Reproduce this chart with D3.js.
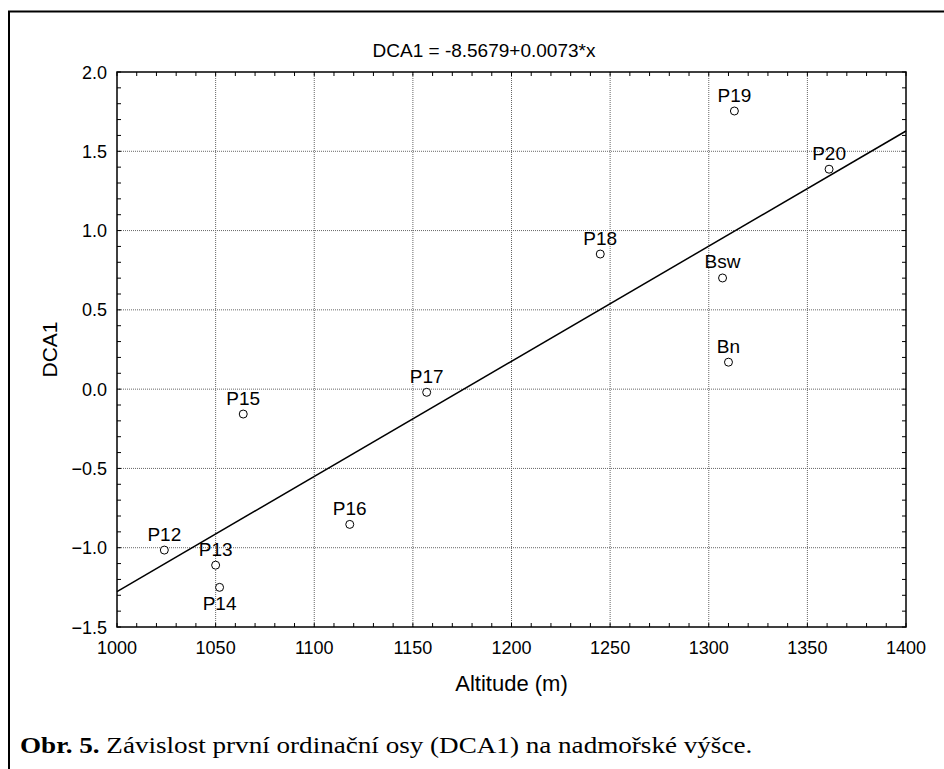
<!DOCTYPE html>
<html lang="cs">
  <head>
    <meta charset="UTF-8" />
    <title>DCA1 vs Altitude</title>
    <script src="https://d3js.org/d3.v7.min.js"></script>
    <style>
      body {
        margin: 0;
        background: #fff;
        font-family: Arial, "Liberation Sans", sans-serif;
      }
      svg text {
        fill: #000;
      }
    </style>
  </head>
  <body>
    <div id="chart"></div>
    <script>
      // values
      const sites = ["P12", "P13", "P14", "P15", "P16", "P17", "P18", "P19", "P20", "Bsw", "Bn"]
      const altitude = [1024, 1050, 1052, 1064, 1118, 1157, 1245, 1313, 1361, 1307, 1310]
      const dca1 = [-1.015, -1.11, -1.25, -0.157, -0.853, -0.02, 0.852, 1.754, 1.387, 0.701, 0.17]
      const labelSide = ["top", "top", "bottom", "top", "top", "top", "top", "top", "top", "top", "top"]

      // fitted line end points (DCA1 = -8.5679 + 0.0073*x)
      const fitAltitude = [1000, 1400]
      const fitDca1 = [-1.277, 1.628]

      const xTicks = [1000, 1050, 1100, 1150, 1200, 1250, 1300, 1350, 1400]
      const yTicks = [-1.5, -1.0, -0.5, 0.0, 0.5, 1.0, 1.5, 2.0]

      const titleText = "DCA1 = -8.5679+0.0073*x"
      const xLabel = "Altitude (m)"
      const yLabel = "DCA1"

      const W = 944, H = 769
      const plot = { left: 117, right: 906, top: 72, bottom: 627 }

      const svg = d3.select("#chart").append("svg").attr("width", W).attr("height", H)

      // figure frame (runs off the page on right and bottom)
      svg.append("rect")
        .attr("x", 9).attr("y", 11.5)
        .attr("width", 1000).attr("height", 900)
        .attr("fill", "none").attr("stroke", "#000").attr("stroke-width", 2)

      const x = d3.scaleLinear().domain([1000, 1400]).range([plot.left, plot.right])
      const y = d3.scaleLinear().domain([-1.5, 2.0]).range([plot.bottom, plot.top])

      // grid
      svg.append("g").selectAll("line")
        .data(xTicks.slice(1, -1)).join("line")
        .attr("x1", d => x(d)).attr("x2", d => x(d))
        .attr("y1", plot.top).attr("y2", plot.bottom)
        .attr("stroke", "#666").attr("stroke-width", 1).attr("stroke-dasharray", "1,1")
      svg.append("g").selectAll("line")
        .data(yTicks.slice(1, -1)).join("line")
        .attr("x1", plot.left).attr("x2", plot.right)
        .attr("y1", d => y(d)).attr("y2", d => y(d))
        .attr("stroke", "#666").attr("stroke-width", 1).attr("stroke-dasharray", "1,1")

      // inward ticks on all four sides
      const xMinor = d3.range(1000, 1401, 10)
      const yMinor = d3.range(-15, 21).map(d => d / 10)
      const tk = 4
      const ticksG = svg.append("g").attr("stroke", "#000").attr("stroke-width", 1)
      ticksG.selectAll(".tb").data(xMinor).join("line").attr("class", "tb")
        .attr("x1", d => x(d)).attr("x2", d => x(d)).attr("y1", plot.bottom).attr("y2", plot.bottom - tk)
      ticksG.selectAll(".tt").data(xMinor).join("line").attr("class", "tt")
        .attr("x1", d => x(d)).attr("x2", d => x(d)).attr("y1", plot.top).attr("y2", plot.top + tk)
      ticksG.selectAll(".tl").data(yMinor).join("line").attr("class", "tl")
        .attr("y1", d => y(d)).attr("y2", d => y(d)).attr("x1", plot.left).attr("x2", plot.left + tk)
      ticksG.selectAll(".tr").data(yMinor).join("line").attr("class", "tr")
        .attr("y1", d => y(d)).attr("y2", d => y(d)).attr("x1", plot.right).attr("x2", plot.right - tk)

      // plot frame
      svg.append("rect")
        .attr("x", plot.left).attr("y", plot.top)
        .attr("width", plot.right - plot.left).attr("height", plot.bottom - plot.top)
        .attr("fill", "none").attr("stroke", "#000").attr("stroke-width", 1.5)

      // tick labels
      svg.append("g").selectAll("text")
        .data(xTicks).join("text")
        .attr("x", d => x(d)).attr("y", plot.bottom + 27)
        .attr("text-anchor", "middle").attr("font-size", 18)
        .text(d => d)
      svg.append("g").selectAll("text")
        .data(yTicks).join("text")
        .attr("x", plot.left - 10).attr("y", d => y(d) + 6.5)
        .attr("text-anchor", "end").attr("font-size", 18)
        .text(d => d3.format(".1f")(d))

      // titles
      svg.append("text")
        .attr("x", 484).attr("y", 56.5)
        .attr("text-anchor", "middle").attr("font-size", 19)
        .text(titleText)
      svg.append("text")
        .attr("x", (plot.left + plot.right) / 2).attr("y", 691)
        .attr("text-anchor", "middle").attr("font-size", 22)
        .text(xLabel)
      svg.append("text")
        .attr("transform", `translate(57,${(plot.top + plot.bottom) / 2}) rotate(-90)`)
        .attr("text-anchor", "middle").attr("font-size", 21)
        .text(yLabel)

      // regression line
      const line = d3.line().x(d => x(d[0])).y(d => y(d[1]))
      svg.append("path")
        .datum(d3.zip(fitAltitude, fitDca1))
        .attr("d", line)
        .attr("fill", "none").attr("stroke", "#000").attr("stroke-width", 1.5)

      // points
      const pts = sites.map((s, i) => ({ site: s, alt: altitude[i], v: dca1[i], side: labelSide[i] }))
      svg.append("g").selectAll("circle")
        .data(pts).join("circle")
        .attr("cx", d => x(d.alt)).attr("cy", d => y(d.v))
        .attr("r", 4)
        .attr("fill", "#fff").attr("stroke", "#000").attr("stroke-width", 1)
      svg.append("g").selectAll("text")
        .data(pts).join("text")
        .attr("x", d => x(d.alt)).attr("y", d => y(d.v) + (d.side === "top" ? -9.5 : 23))
        .attr("text-anchor", "middle").attr("font-size", 19)
        .text(d => d.site)

      // caption
      const cap = svg.append("text")
        .attr("transform", "translate(20,753) scale(1.13,1)")
        .attr("font-family", "'Liberation Serif', 'Times New Roman', serif")
        .attr("font-size", 24)
      cap.append("tspan").attr("font-weight", "bold").text("Obr. 5.")
      cap.append("tspan").text(" Závislost první ordinační osy (DCA1) na nadmořské výšce.")
    </script>
  </body>
</html>
